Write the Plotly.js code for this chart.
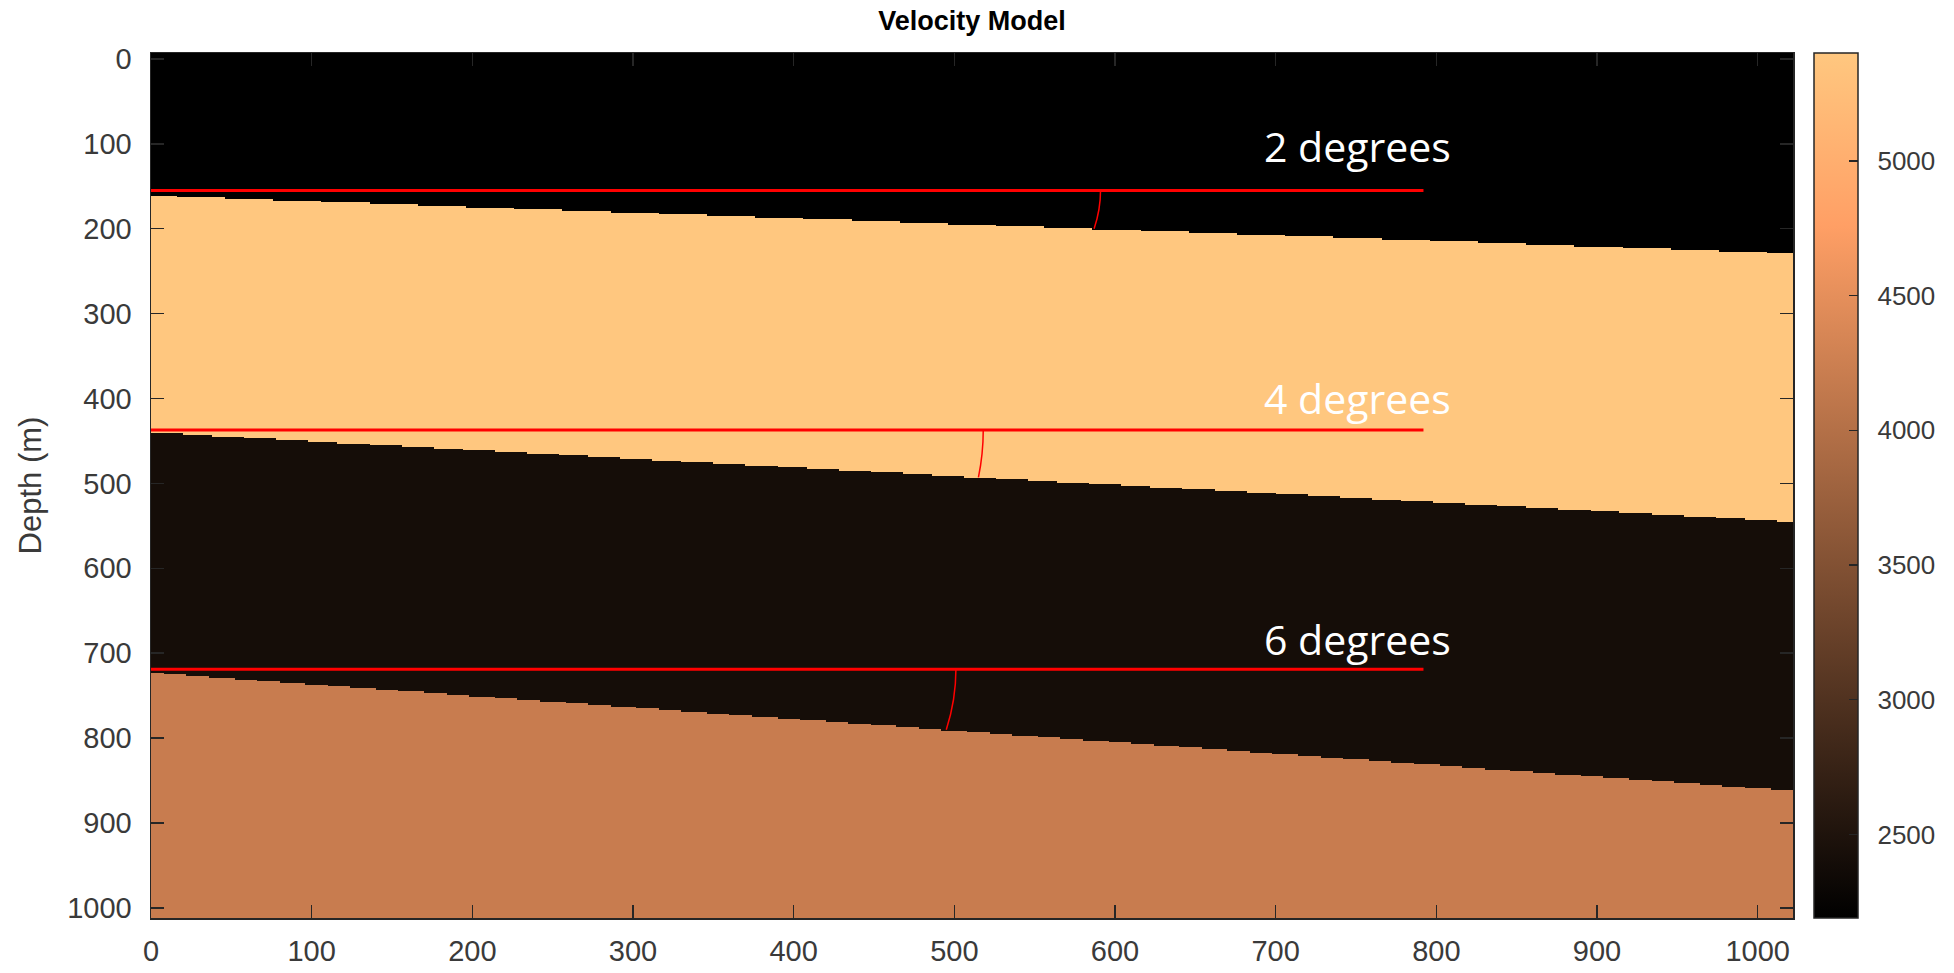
<!DOCTYPE html>
<html><head><meta charset="utf-8">
<script src="https://cdn.plot.ly/plotly-3.0.1.min.js"></script>
<style>html,body{margin:0;padding:0;background:#fff;}</style>
</head><body>
<div id="chart" style="width:1954px;height:973px;"></div>
<script>
// ---- data ----
const layerVelocity = [2190, 5400, 2400, 4200];          // m/s, top to bottom
const interfaceDepthLeft = [161, 440, 723];               // depth at x = 0
const interfaceDepthRight = [229, 545, 862];              // depth at x = xMax
const xMax = 1022;
const yMin = -7, yMax = 1012;
const cell = 2;                                           // model grid spacing
const refLineDepth = [155, 437, 719];                     // red reference lines
const refLineEnd = 792;
const arcTopX = [591, 518, 501];
const arcBottomX = [587, 515, 495];
const angleLabels = ['2 degrees', '4 degrees', '6 degrees'];
const labelX = 751;
const labelDepth = [102, 400, 683];
const tickValues = [0, 100, 200, 300, 400, 500, 600, 700, 800, 900, 1000];

// ---- build model grid ----
const xs = [], ys = [];
for (let x = cell / 2; x < xMax; x += cell) xs.push(x);
for (let y = yMin + cell / 2; y < yMax + cell; y += cell) ys.push(y);
function ifaceDepth(i, x) {
  return interfaceDepthLeft[i] + (interfaceDepthRight[i] - interfaceDepthLeft[i]) * x / xMax;
}
const z = ys.map(y => xs.map(x => {
  let k = 0;
  for (let i = 0; i < interfaceDepthLeft.length; i++) if (y >= ifaceDepth(i, x)) k = i + 1;
  return layerVelocity[k];
}));

const copper = [[0, 'rgb(0,0,0)'], [0.8, 'rgb(255,159,101)'], [1, 'rgb(255,199,127)']];
const FONT = 'Liberation Sans, Arial, Helvetica, sans-serif';
const tickGray = '#3a3a3a';

const trace = {
  type: 'heatmap', x: xs, y: ys, z: z, colorscale: copper, zsmooth: false,
  hoverinfo: 'skip',
  colorbar: {
    x: 1.0128, xanchor: 'left', xpad: 0, y: 0.5, yanchor: 'middle', ypad: 0,
    len: 1, lenmode: 'fraction', thickness: 44, thicknessmode: 'pixels',
    outlinewidth: 1.5, outlinecolor: '#262626',
    ticks: 'inside', ticklen: 9, tickcolor: '#262626', tickwidth: 1.5,
    dtick: 500, tick0: 0, tickprefix: '\u2002',
    tickfont: {family: FONT, size: 26, color: tickGray}
  }
};

const shapes = [];
refLineDepth.forEach((d, i) => {
  shapes.push({type: 'line', xref: 'x', yref: 'y', x0: 0, x1: refLineEnd, y0: d, y1: d,
    line: {color: '#ff0000', width: 3}});
  const yb = ifaceDepth(i, arcBottomX[i]);
  const ym = d + (yb - d) * 0.5;
  shapes.push({type: 'path', xref: 'x', yref: 'y',
    path: `M ${arcTopX[i]},${d} Q ${arcTopX[i]},${ym} ${arcBottomX[i]},${yb}`,
    line: {color: '#ff0000', width: 1.5}});
});

const annotations = angleLabels.map((t, i) => ({
  x: labelX, y: labelDepth[i], xref: 'x', yref: 'y', text: t, showarrow: false,
  font: {family: 'Open Sans, sans-serif', size: 41, color: '#ffffff'}
}));

const axisFont = {family: FONT, size: 29, color: tickGray};
const commonAxis = {
  tickvals: tickValues, ticks: 'inside', ticklen: 13, tickwidth: 1.5, tickcolor: '#262626',
  showline: true, linecolor: '#262626', linewidth: 1.5, mirror: 'allticks',
  showgrid: false, zeroline: false, tickfont: axisFont
};
const layout = {
  width: 1954, height: 973,
  margin: {l: 151, r: 161, t: 53, b: 55, pad: 0, autoexpand: false},
  paper_bgcolor: '#ffffff', plot_bgcolor: '#ffffff',
  title: {text: '<b>Velocity Model</b>', x: 0.5, xref: 'paper', y: 0.979, yref: 'container',
    yanchor: 'middle', font: {family: FONT, size: 27, color: '#000000'}},
  xaxis: Object.assign({}, commonAxis, {range: [0, xMax], ticklabelstandoff: 7}),
  yaxis: Object.assign({}, commonAxis, {range: [yMax, yMin], ticklabelstandoff: 12,
    title: {text: 'Depth (m)', font: {family: FONT, size: 31, color: tickGray}, standoff: 16}}),
  shapes: shapes, annotations: annotations, showlegend: false
};

Plotly.newPlot('chart', [trace], layout, {displayModeBar: false, staticPlot: true});
</script>
</body></html>
